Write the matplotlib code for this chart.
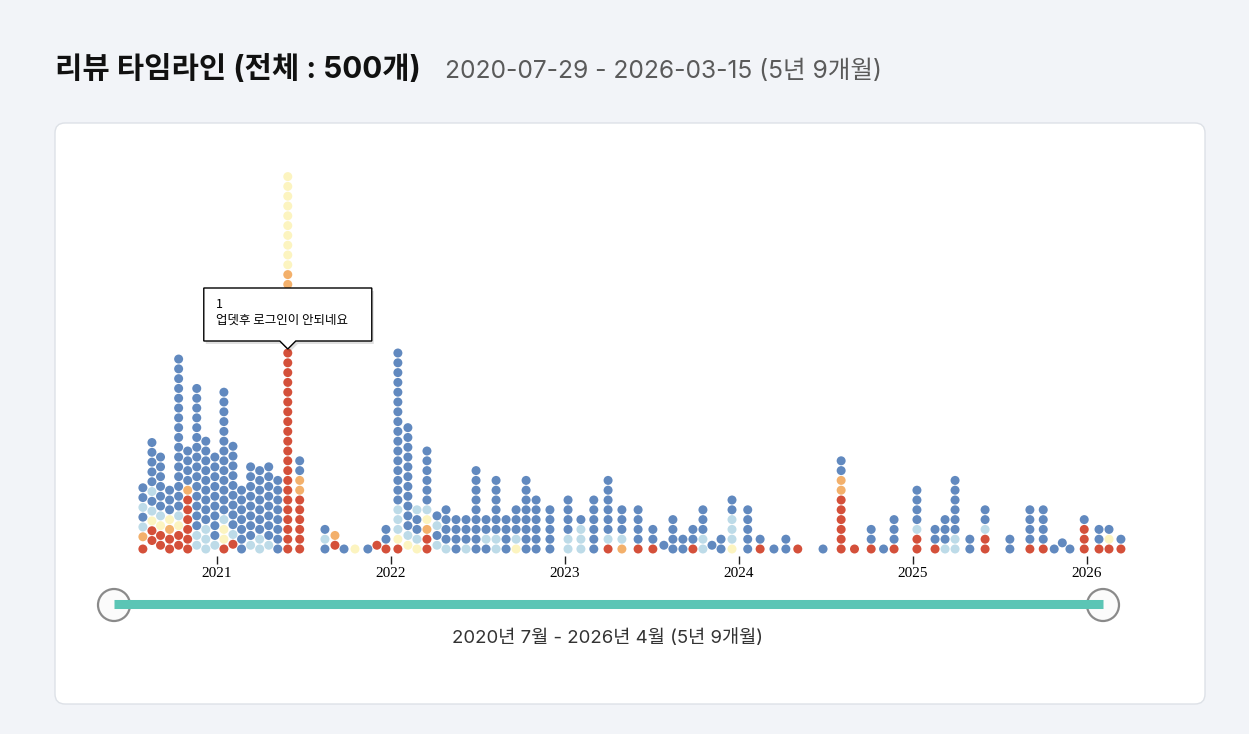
import matplotlib
matplotlib.use("Agg")
import matplotlib.dates as mdates
import matplotlib.pyplot as plt
import numpy as np
from matplotlib.patches import Circle, FancyBboxPatch, Polygon

plt.rcParams["font.family"] = ["Noto Sans CJK KR", "DejaVu Sans"]
UI_FONT = ["Inter", "Noto Sans CJK KR", "DejaVu Sans"]

# one entry per stacked column of reviews: date and ratings from bottom to top
column_dates = [
    "2020-07-30", "2020-08-18", "2020-09-05", "2020-09-24", "2020-10-13", "2020-11-01",
    "2020-11-20", "2020-12-09", "2020-12-28", "2021-01-16", "2021-02-04", "2021-02-22",
    "2021-03-13", "2021-04-01", "2021-04-20", "2021-05-09", "2021-05-30", "2021-06-24",
    "2021-08-16", "2021-09-06", "2021-09-25", "2021-10-18", "2021-11-14", "2021-12-03",
    "2021-12-22", "2022-01-16", "2022-02-06", "2022-02-25", "2022-03-18", "2022-04-08",
    "2022-04-27", "2022-05-18", "2022-06-08", "2022-06-29", "2022-07-20", "2022-08-10",
    "2022-08-31", "2022-09-21", "2022-10-12", "2022-11-02", "2022-12-01", "2023-01-08",
    "2023-02-04", "2023-03-03", "2023-04-02", "2023-05-01", "2023-06-04", "2023-07-05",
    "2023-07-28", "2023-08-16", "2023-09-06", "2023-09-27", "2023-10-18", "2023-11-06",
    "2023-11-25", "2023-12-18", "2024-01-20", "2024-02-15", "2024-03-15", "2024-04-09",
    "2024-05-04", "2024-06-26", "2024-08-03", "2024-08-31", "2024-10-05", "2024-10-31",
    "2024-11-22", "2025-01-09", "2025-02-16", "2025-03-09", "2025-03-30", "2025-04-30",
    "2025-06-01", "2025-07-23", "2025-09-03", "2025-10-01", "2025-10-24", "2025-11-10",
    "2025-11-26", "2025-12-26", "2026-01-26", "2026-02-16", "2026-03-13",
]
column_ratings = [
    "1245455", "11345455555", "1134555555", "1123555", "11345555555555555555", "11111125555",
    "44555555555555555", "444555555555", "4555555555", "13345555555555555", "14555555555", "5555555",
    "455555555", "445555555", "455555555", "55555555",
    "1" * 27 + "22" + "3" * 10, "1111112255",
    "545", "12", "5", "3", "5", "1",
    "155", "13444" + "5" * 16, "3455555555555", "34554", "11234555555", "4545",
    "45555", "5555", "4555", "555555555", "5455", "44555555",
    "5555", "34555", "55555555", "555555", "55555", "445555",
    "4445", "555555", "14555555", "24555", "15555", "155",
    "5", "5555", "55", "155", "44555", "5",
    "55", "344455", "55555", "15", "5", "55",
    "1", "5", "1111112255", "1", "155", "5",
    "1555", "1145555", "155", "4555", "44555555", "55",
    "11455", "55", "15555", "15555", "5", "5",
    "5", "1115", "155", "135", "15",
]
rating_colors = {"1": "#d4503a", "2": "#f3b06b", "3": "#fcf4c0", "4": "#bddbe8", "5": "#6189bf"}

year_ticks = ["2021", "2022", "2023", "2024", "2025", "2026"]
title = "리뷰 타임라인 (전체 : 500개)"
subtitle = "2020-07-29 - 2026-03-15 (5년 9개월)"
range_label = "2020년 7월 - 2026년 4월 (5년 9개월)"
hover_date, hover_index = "2021-05-30", 20
tooltip_lines = ["1", "업뎃후 로그인이 안되네요"]

W, H = 1249, 734
DIAMETER = 9.8


def dodge(xs, order, diameter):
    placed = []
    ys = np.zeros(len(xs))
    for i in order:
        x = xs[i]
        near = [(px, py) for px, py in placed if abs(px - x) < diameter]
        candidates = [0.0] + [py + np.sqrt(diameter ** 2 - (px - x) ** 2) for px, py in near]
        for y in sorted(candidates):
            if all((px - x) ** 2 + (py - y) ** 2 >= diameter ** 2 - 1e-6 for px, py in near):
                break
        ys[i] = y
        placed.append((x, y))
    return ys


fig = plt.figure(figsize=(W / 100, H / 100), dpi=100)
fig.patch.set_facecolor("#f2f4f8")

# background layer in pixel units: card and headings
bg = fig.add_axes([0, 0, 1, 1], zorder=0)
bg.set_xlim(0, W)
bg.set_ylim(H, 0)
bg.axis("off")
bg.add_patch(FancyBboxPatch((55, 123), 1150, 581, boxstyle="round,pad=0,rounding_size=10",
                            facecolor="white", edgecolor="#dde1e7", linewidth=1))
bg.text(55, 70, title, fontsize=21.4, fontweight="bold", color="#111111", va="center", family=UI_FONT)
bg.text(445, 71, subtitle, fontsize=17.7, color="#5a5a5a", va="center", family=UI_FONT)

# dot plot, y in pixels above the axis
ax_l, ax_r, ax_b, ax_t = 110, 1140, 556, 150
ax = fig.add_axes([ax_l / W, (H - ax_b) / H, (ax_r - ax_l) / W, (ax_b - ax_t) / H], zorder=1)
ax.patch.set_alpha(0)
ax.set_xlim(mdates.datestr2num("2020-05-22"), mdates.datestr2num("2026-04-22"))
ax.set_ylim(0, ax_b - ax_t)
for side in ax.spines.values():
    side.set_visible(False)
ax.set_yticks([])
ax.set_xticks([mdates.datestr2num(f"{y}-01-01") for y in year_ticks])
ax.set_xticklabels(year_ticks, family="Liberation Serif", fontsize=11)
ax.tick_params(axis="x", length=6, width=1, color="#222222", pad=2)

dot_x, dot_c, dot_col, dot_pos = [], [], [], []
for ci, (d, ratings) in enumerate(zip(column_dates, column_ratings)):
    for k, r in enumerate(ratings):
        dot_x.append(mdates.datestr2num(d))
        dot_c.append(rating_colors[r])
        dot_col.append(ci)
        dot_pos.append(k)
dot_x = np.array(dot_x)
px = ax.transData.transform(np.column_stack([dot_x, np.zeros_like(dot_x)]))[:, 0]
order = sorted(range(len(dot_x)), key=lambda i: (-dot_col[i], dot_pos[i]))
dot_y = 7 + dodge(px, order, DIAMETER)
ax.scatter(dot_x, dot_y, s=42, c=dot_c, linewidths=0, zorder=3)

# overlay: range slider and tooltip
top = fig.add_axes([0, 0, 1, 1], zorder=2)
top.set_xlim(0, W)
top.set_ylim(H, 0)
top.axis("off")
top.plot([114, 1103], [604, 604], color="#5bc5b5", linewidth=6.5, solid_capstyle="butt")
for cx in (114, 1103):
    top.add_patch(Circle((cx, 605), 16, facecolor="#fbfbfb", edgecolor="#8a8a8a", linewidth=1.6))
top.text(608, 638, range_label, fontsize=13.4, color="#333333", ha="center", va="center", family=UI_FONT)

hi = next(i for i in range(len(dot_x))
          if column_dates[dot_col[i]] == hover_date and dot_pos[i] == hover_index)
hx = px[hi]
hy = ax_b - dot_y[hi]
bw, bh = 168, 53
left, bottom = hx - bw / 2, hy - 12
box = [(left, bottom - bh), (left + bw, bottom - bh), (left + bw, bottom), (hx + 8, bottom),
       (hx, bottom + 8), (hx - 8, bottom), (left, bottom)]
shadow = [(x + 2, y + 3) for x, y in box]
top.add_patch(Polygon(shadow, closed=True, facecolor="black", alpha=0.12, edgecolor="none"))
top.add_patch(Polygon(box, closed=True, facecolor="white", edgecolor="black", linewidth=1))
top.text(left + 12, bottom - bh + 17, tooltip_lines[0], fontsize=9, color="black", va="center")
top.text(left + 12, bottom - bh + 32, tooltip_lines[1], fontsize=9, color="black", va="center")

fig.savefig("out.png", dpi=100)
